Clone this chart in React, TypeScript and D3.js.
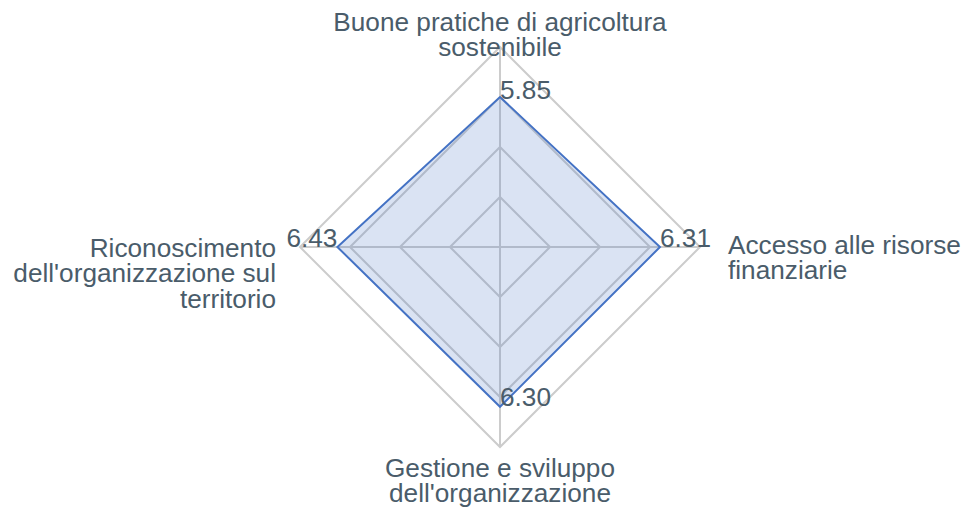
import * as d3 from "d3";
import { useEffect, useRef } from "react";

const axes = [
  ["Buone pratiche di agricoltura", "sostenibile"],
  ["Accesso alle risorse", "finanziarie"],
  ["Gestione e sviluppo", "dell'organizzazione"],
  ["Riconoscimento", "dell'organizzazione sul", "territorio"],
];
const values = [5.85, 6.31, 6.3, 6.43];
const valueDomain = [-1.05, 8.15];
const ringLevels = [0.25, 0.5, 0.75, 1];

const width = 966;
const height = 514;
const cx = 500;
const cy = 247;
const R = 200;
const textColor = "#4a5c6a";
const font = "'Liberation Sans', Arial, Helvetica, sans-serif";
const fontSize = 26.2;
const lineGap = 25.3;

export default function App() {
  const svgRef = useRef<SVGSVGElement>(null);

  useEffect(() => {
    if (!svgRef.current) return;
    const svg = d3.select(svgRef.current);
    svg.selectAll("*").remove();

    const n = axes.length;
    const angle = (i: number) => (i / n) * Math.PI * 2;
    const pt = (i: number, r: number): [number, number] => [
      cx + r * Math.sin(angle(i)),
      cy - r * Math.cos(angle(i)),
    ];

    const rScale = d3.scaleLinear().domain(valueDomain).range([0, R]);
    const line = d3.line<[number, number]>().curve(d3.curveLinearClosed);

    const grid = svg.append("g");
    ringLevels.forEach((lv) => {
      grid.append("path")
        .attr("d", line(d3.range(n).map((i) => pt(i, lv * R))))
        .attr("fill", "none")
        .attr("stroke", "#cccccc")
        .attr("stroke-width", 2);
    });
    d3.range(n).forEach((i) => {
      const [x, y] = pt(i, R);
      grid.append("line")
        .attr("x1", cx).attr("y1", cy)
        .attr("x2", x).attr("y2", y)
        .attr("stroke", "#cccccc")
        .attr("stroke-width", 2);
    });

    const pts = values.map((v, i) => pt(i, rScale(v)));
    svg.append("path")
      .attr("d", line(pts))
      .attr("fill", "#4472c4")
      .attr("fill-opacity", 0.2)
      .attr("stroke", "#4472c4")
      .attr("stroke-width", 2)
      .attr("stroke-linejoin", "miter");

    // value labels sit on the vertex, left one right-aligned
    values.forEach((v, i) => {
      const [x, y] = pts[i];
      svg.append("text")
        .attr("x", x)
        .attr("y", y + (i === 0 ? 1.5 : -0.5))
        .attr("text-anchor", i === 3 ? "end" : "start")
        .attr("font-family", font)
        .attr("font-size", fontSize)
        .attr("fill", textColor)
        .text(v.toFixed(2));
    });

    // axis names
    const labelPos = [
      { x: cx, y: cy - R + 9 - lineGap, anchor: "middle" },
      { x: cx + R + 28, y: cy + 7, anchor: "start" },
      { x: cx, y: cy + R + 30, anchor: "middle" },
      { x: cx - R - 24, y: cy + 10, anchor: "end" },
    ];
    axes.forEach((lines, i) => {
      const p = labelPos[i];
      const t = svg.append("text")
        .attr("text-anchor", p.anchor)
        .attr("font-family", font)
        .attr("font-size", fontSize)
        .attr("fill", textColor);
      lines.forEach((s, k) => {
        t.append("tspan").attr("x", p.x).attr("y", p.y + k * lineGap).text(s);
      });
    });
  }, []);

  return (
    <svg
      ref={svgRef}
      width={width}
      height={height}
      style={{ position: "fixed", left: 0, top: 0, display: "block", background: "#fff" }}
    ></svg>
  );
}
